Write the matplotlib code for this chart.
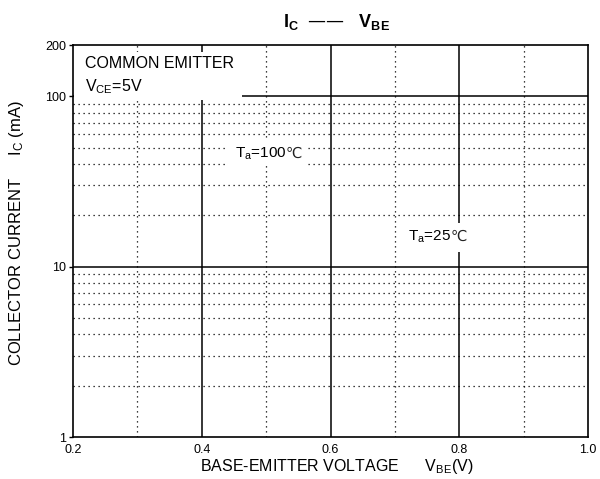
import numpy as np
import matplotlib
matplotlib.use("Agg")
from matplotlib import pyplot as plt
from matplotlib.patches import Rectangle
from matplotlib.ticker import FixedLocator, NullFormatter

plt.rcParams['font.family'] = ['Liberation Sans', 'DejaVu Sans']
plt.rcParams['mathtext.default'] = 'regular'

# axis ranges / ticks
x_range = [0.2, 1.0]
y_range = [1, 200]
x_major = [0.2, 0.4, 0.6, 0.8, 1.0]
x_minor = [0.3, 0.5, 0.7, 0.9]
y_major = [1, 10, 100, 200]
y_minor = [2, 3, 4, 5, 6, 7, 8, 9, 20, 30, 40, 50, 60, 70, 80, 90]

# curve labels (the curves themselves are not drawn in the source)
curve_labels = ['T$_a$=100', 'T$_a$=25']
label_x = [0.531, 0.787]
label_y = [43.7, 14.2]

fig = plt.figure(figsize=(6, 4.79), dpi=100)
ax = fig.add_axes([73/600, 1-437/479, 515/600, 392/479])
ax.set_yscale('log')
ax.set_xlim(x_range)
ax.set_ylim(y_range)
ax.set_axisbelow(True)

ax.xaxis.set_major_locator(FixedLocator(x_major))
ax.xaxis.set_minor_locator(FixedLocator(x_minor))
ax.yaxis.set_major_locator(FixedLocator(y_major))
ax.yaxis.set_minor_locator(FixedLocator(y_minor))
ax.set_xticklabels([f"{v:.1f}" for v in x_major])
ax.set_yticklabels([str(v) for v in y_major])
ax.yaxis.set_minor_formatter(NullFormatter())

# solid major grid (no line at 200), dotted minor grid
for v in x_major[1:-1]:
    ax.axvline(v, color='black', lw=1.1, zorder=0.5)
for v in [10, 100]:
    ax.axhline(v, color='black', lw=1.1, zorder=0.5)
ax.grid(which='minor', color='black', lw=0.9, linestyle=(0, (1, 3)))

ax.tick_params(which='major', axis='y', length=3, width=1, labelsize=9, pad=2)
ax.tick_params(which='major', axis='x', length=0, labelsize=9, pad=5)
ax.tick_params(which='minor', length=0)
for s in ax.spines.values():
    s.set_linewidth(1.2)

# white patches that hide gridlines behind the texts
for x0, x1, y0, y1 in [(74, 242, 52, 100), (225, 308, 140, 166), (400, 470, 223, 252)]:
    ax.add_patch(Rectangle(((x0-73)/515, (437-y1)/392), (x1-x0)/515, (y1-y0)/392,
                           transform=ax.transAxes, facecolor='white', edgecolor='none', zorder=1))

ax.text(12/515, (437-56)/392, 'COMMON EMITTER', transform=ax.transAxes,
        fontsize=11.5, va='top', ha='left', zorder=2)
ax.text(12/515, (437-77)/392, 'V$_{CE}$=5V', transform=ax.transAxes,
        fontsize=11.5, va='top', ha='left', zorder=2)

for t, x, y in zip(curve_labels, label_x, label_y):
    ax.text(x, y, t, fontsize=11, ha='right', va='baseline', zorder=2)
    ax.text(x, y, '\u2103', fontsize=10.5, ha='left', va='baseline', zorder=2,
            family='DejaVu Sans', color='#222222')

fig.text(337/600, 1-22/479, 'I$_C$  \u2014\u2014   V$_{BE}$', fontsize=13,
         fontweight='bold', ha='center', va='center')
fig.text(337/600, 1-467/479, 'BASE-EMITTER VOLTAGE      V$_{BE}$(V)', fontsize=11.5,
         ha='center', va='center')
fig.text(17/600, 1-233/479, 'COLLECTOR CURRENT     I$_C$ (mA)', fontsize=12,
         rotation=90, ha='center', va='center')

fig.savefig('out.png', dpi=100)
